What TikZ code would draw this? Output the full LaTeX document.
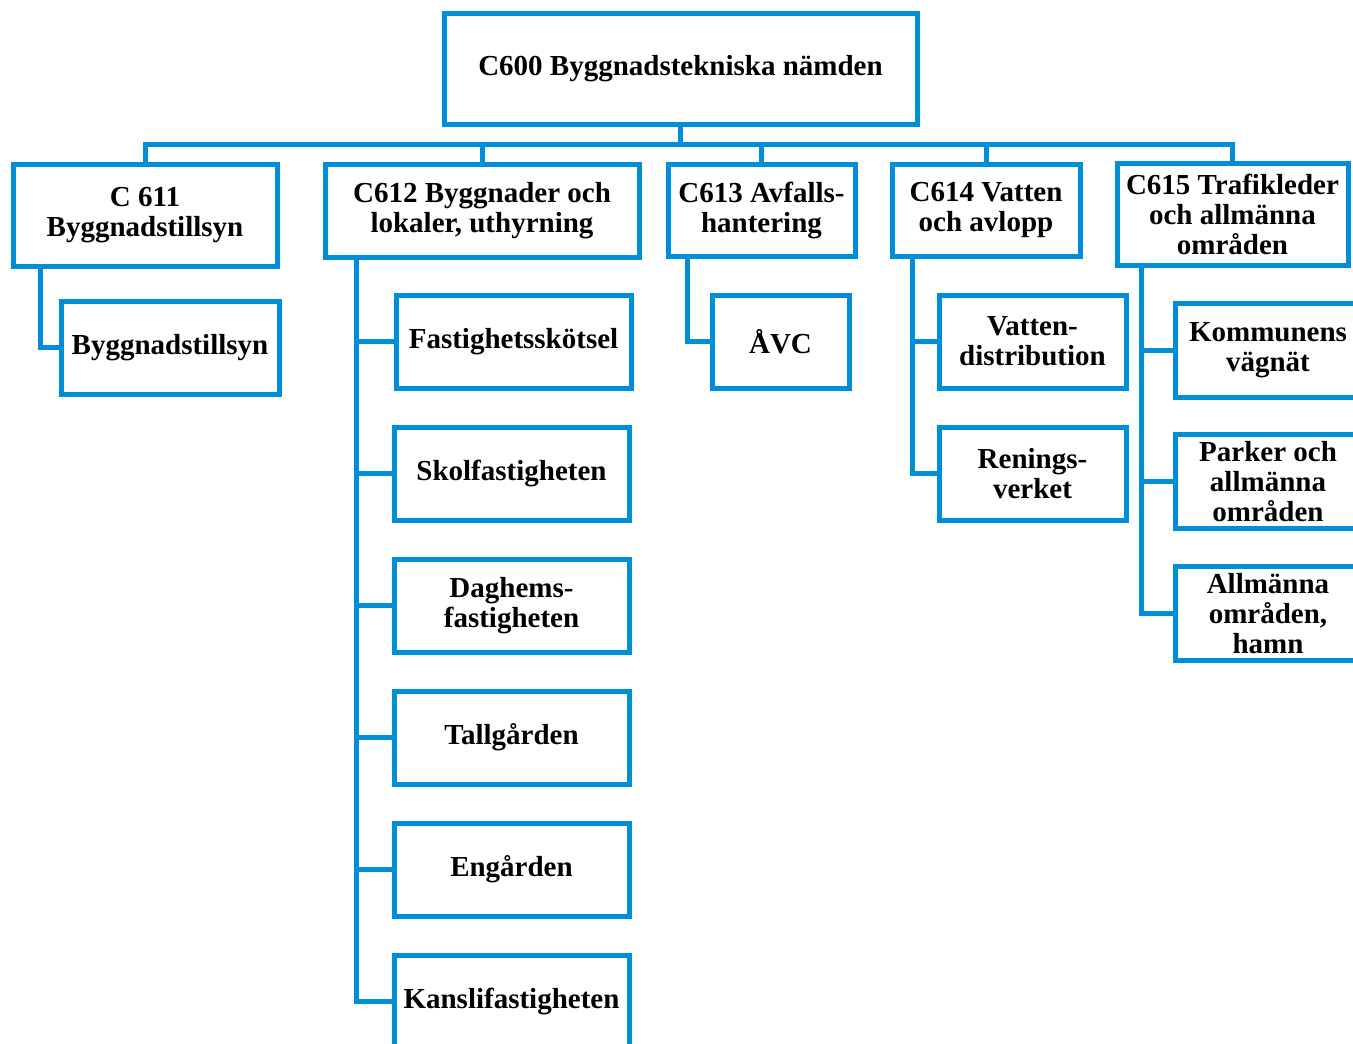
\documentclass[tikz,border=0pt]{standalone}
\usepackage{fontspec}
\setmainfont{Liberation Serif}
\definecolor{orgblue}{RGB}{0,142,214}

\tikzset{
  unit/.style={draw=orgblue, line width=5pt, fill=white, align=center, inner sep=0pt,
    font=\bfseries\fontsize{29}{30}\selectfont},
  link/.style={draw=orgblue, line width=5pt, line join=miter}
}

\begin{document}
\begin{tikzpicture}[x=1pt, y=-1pt]
  \clip (0,0) rectangle (1353,1044);

  % top level
  \node[unit, minimum width=473, minimum height=111] (c600) at (680.5,68.5) {C600 Byggnadstekniska nämden};

  % second level
  \node[unit, minimum width=264, minimum height=102] (c611) at (145,215) {C 611\\Byggnadstillsyn};
  \node[unit, minimum width=314, minimum height=93] (c612) at (482,210.5) {C612 Byggnader och\\lokaler, uthyrning};
  \node[unit, minimum width=187, minimum height=92] (c613) at (761.5,210) {C613 Avfalls-\\hantering};
  \node[unit, minimum width=188, minimum height=92] (c614) at (986,210) {C614 Vatten\\och avlopp};
  \node[unit, minimum width=231, minimum height=102] (c615) at (1232.5,214) {C615 Trafikleder\\och allmänna\\områden};

  % third level
  \node[unit, minimum width=218, minimum height=93] (tillsyn) at (170,347.5) {Byggnadstillsyn};

  \node[unit, minimum width=235, minimum height=93] (skotsel) at (513.5,341.5) {Fastighetsskötsel};
  \node[unit, minimum width=235, minimum height=93] (skola) at (511.5,473.5) {Skolfastigheten};
  \node[unit, minimum width=235, minimum height=93] (daghem) at (511.5,605.5) {Daghems-\\fastigheten};
  \node[unit, minimum width=235, minimum height=93] (tall) at (511.5,737.5) {Tallgården};
  \node[unit, minimum width=235, minimum height=93] (eng) at (511.5,869.5) {Engården};
  \node[unit, minimum width=235, minimum height=93] (kansli) at (511.5,1001.5) {Kanslifastigheten};

  \node[unit, minimum width=137, minimum height=93] (avc) at (780.5,341.5) {ÅVC};

  \node[unit, minimum width=187, minimum height=93] (vatten) at (1032.5,341.5) {Vatten-\\distribution};
  \node[unit, minimum width=187, minimum height=93] (verket) at (1032.5,473.5) {Renings-\\verket};

  \node[unit, minimum width=186, minimum height=94] (vagnat) at (1268,350) {Kommunens\\vägnät};
  \node[unit, minimum width=186, minimum height=94] (parker) at (1268,481.5) {Parker och\\allmänna\\områden};
  \node[unit, minimum width=186, minimum height=94] (hamn) at (1268,613.5) {Allmänna\\områden,\\hamn};

  % bus below the top box
  \coordinate (bus) at (680.5,144);
  \draw[link] (c600.south) -- (bus);
  \foreach \n in {c611,c612,c613,c614,c615}
    \draw[link] (bus) -| (\n.north);

  % branches
  \draw[link] ([xshift=30]c611.south west) |- (tillsyn.west);
  \foreach \n in {skotsel,skola,daghem,tall,eng,kansli}
    \draw[link] ([xshift=34]c612.south west) |- (\n.west);
  \draw[link] ([xshift=22]c613.south west) |- (avc.west);
  \foreach \n in {vatten,verket}
    \draw[link] ([xshift=23]c614.south west) |- (\n.west);
  \foreach \n in {vagnat,parker,hamn}
    \draw[link] ([xshift=27]c615.south west) |- (\n.west);
\end{tikzpicture}
\end{document}
